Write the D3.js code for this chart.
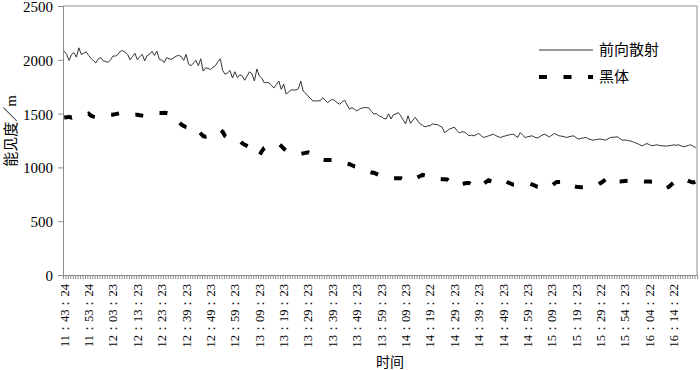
<!DOCTYPE html>
<html>
<head>
<meta charset="utf-8">
<script src="https://cdn.jsdelivr.net/npm/d3@7"></script>
<style>
  body { margin: 0; background: #fff; }
  svg { display: block; }
  .axis path, .axis line { stroke: #8c8c8c; }
</style>
</head>
<body>
<svg id="chart"></svg>
<script>
// category labels, one every 10 samples
const tickLabels = ['11：43：24', '11：53：24', '12：03：23', '12：13：23', '12：23：23', '12：39：23',
  '12：49：23', '12：59：23', '13：09：23', '13：19：23', '13：29：23', '13：39：23', '13：49：23',
  '13：59：23', '14：09：23', '14：19：22', '14：29：23', '14：39：23', '14：49：23', '14：59：23',
  '15：09：23', '15：19：23', '15：29：22', '15：54：23', '16：04：22', '16：14：22'];
const labelStep = 10;

const seriesNames = ['前向散射', '黑体'];

// forward scatter visibility (m), 260 samples
const forward = [
  2080, 2050, 1994, 2050, 2065, 2025, 2111, 2050, 2060, 2075,
  2040, 2013, 1990, 1972, 2010, 2020, 1990, 1985, 1975, 2000,
  2035, 2035, 2050, 2080, 2085, 2070, 2050, 2000, 2030, 2060,
  2000, 2030, 2050, 1990, 2040, 2050, 2080, 2040, 2080, 2005,
  1995, 1975, 2020, 2010, 2005, 2020, 2035, 2040, 2030, 1995,
  2050, 1960, 1945, 1970, 1995, 1945, 2010, 1895, 1925, 1920,
  1910, 1930, 1945, 1980, 2010, 1900, 1865, 1880, 1900, 1830,
  1889, 1834, 1860, 1850, 1810, 1850, 1889, 1870, 1803, 1914,
  1850, 1830, 1787, 1790, 1787, 1760, 1738, 1770, 1803, 1725,
  1775, 1682, 1700, 1720, 1720, 1720, 1730, 1803, 1710, 1690,
  1664, 1640, 1618, 1618, 1618, 1620, 1648, 1625, 1602, 1620,
  1633, 1620, 1600, 1587, 1610, 1624, 1580, 1541, 1556, 1540,
  1525, 1541, 1550, 1556, 1556, 1550, 1520, 1497, 1500, 1480,
  1470, 1455, 1450, 1497, 1450, 1490, 1497, 1510, 1480, 1440,
  1404, 1480, 1410, 1440, 1465, 1430, 1404, 1390, 1377, 1385,
  1387, 1404, 1400, 1398, 1385, 1374, 1321, 1340, 1357, 1365,
  1374, 1345, 1321, 1330, 1330, 1315, 1293, 1300, 1293, 1305,
  1315, 1295, 1278, 1285, 1293, 1300, 1309, 1295, 1285, 1278,
  1288, 1293, 1300, 1305, 1309, 1295, 1278, 1324, 1300, 1278,
  1285, 1290, 1293, 1280, 1272, 1285, 1300, 1309, 1295, 1284,
  1300, 1315, 1305, 1293, 1290, 1285, 1278, 1285, 1290, 1293,
  1275, 1262, 1270, 1275, 1278, 1265, 1258, 1253, 1258, 1262,
  1262, 1258, 1253, 1265, 1278, 1280, 1282, 1284, 1265, 1253,
  1255, 1250, 1247, 1240, 1230, 1222, 1210, 1201, 1212, 1222,
  1210, 1201, 1205, 1210, 1205, 1200, 1201, 1198, 1201, 1205,
  1210, 1205, 1210, 1200, 1191, 1198, 1205, 1210, 1195, 1185
];

// black body visibility (m), 260 samples
const blackbody = [
  1463, 1465, 1470, 1462, 1470, 1475, 1478, 1480, 1485, 1490,
  1500, 1480, 1472, 1468, 1475, 1480, 1485, 1488, 1490, 1492,
  1490, 1495, 1500, 1505, 1502, 1498, 1495, 1492, 1490, 1488,
  1490, 1485, 1482, 1480, 1485, 1490, 1495, 1500, 1502, 1505,
  1505, 1508, 1505, 1500, 1498, 1480, 1450, 1420, 1400, 1385,
  1375, 1370, 1365, 1360, 1370, 1340, 1315, 1290, 1285, 1290,
  1300, 1310, 1320, 1335, 1350, 1330, 1290, 1275, 1260, 1250,
  1250, 1248, 1245, 1225, 1210, 1200, 1190, 1170, 1150, 1120,
  1110, 1150, 1180, 1190, 1200, 1205, 1210, 1215, 1220, 1200,
  1175, 1155, 1145, 1138, 1132, 1128, 1126, 1125, 1130, 1135,
  1140, 1130, 1110, 1095, 1080, 1072, 1070, 1068, 1068, 1068,
  1068, 1060, 1055, 1050, 1045, 1040, 1035, 1030, 1020, 1010,
  1005, 995, 985, 975, 965, 958, 952, 950, 940, 930,
  923, 915, 910, 905, 902, 900, 900, 900, 900, 890,
  880, 875, 880, 890, 900, 910, 920, 930, 925, 915,
  905, 900, 898, 895, 892, 890, 890, 888, 870, 850,
  830, 835, 840, 845, 850, 855, 855, 840, 825, 810,
  820, 835, 850, 865, 880, 872, 865, 858, 850, 855,
  865, 875, 860, 850, 840, 840, 845, 848, 850, 850,
  850, 850, 840, 830, 820, 815, 815, 815, 812, 810,
  830, 850, 865, 865, 865, 865, 865, 865, 845, 825,
  820, 818, 815, 815, 815, 820, 825, 830, 835, 840,
  855, 870, 890, 905, 915, 900, 885, 870, 870, 872,
  874, 875, 875, 875, 875, 875, 875, 875, 870, 870,
  868, 866, 865, 865, 855, 840, 825, 810, 820, 840,
  860, 875, 890, 900, 895, 885, 875, 865, 860, 870
];

const yTicks = [0, 500, 1000, 1500, 2000, 2500];

const width = 700, height = 370;
const margin = {top: 6, right: 3, bottom: 95, left: 63};
const numFont = 'Liberation Serif';
const cjkFont = 'Noto Sans CJK SC';
const dash = '8 16.5';

const svg = d3.select('#chart')
    .attr('width', width)
    .attr('height', height);

const innerW = width - margin.left - margin.right;
const innerH = height - margin.top - margin.bottom;

const chart = svg.append('g')
    .attr('transform', `translate(${margin.left},${margin.top})`);

// scales
const idx = d3.range(forward.length);
const xScale = d3.scaleBand().domain(idx).range([0, innerW]);
const xEdge = d3.scaleLinear().domain([0, forward.length]).range([0, innerW]);
const yScale = d3.scaleLinear().domain([0, 2500]).range([innerH, 0]);

// plot area border (top and right)
chart.append('path')
    .attr('d', `M0,0H${innerW}V${innerH}`)
    .attr('fill', 'none')
    .attr('stroke', '#8c8c8c');

// y axis
const yAxisG = chart.append('g')
    .attr('class', 'axis y-axis')
    .call(d3.axisLeft(yScale).tickValues(yTicks).tickSize(5).tickSizeOuter(0).tickFormat(d3.format('d')));
yAxisG.attr('font-family', numFont).attr('font-size', 15);
yAxisG.selectAll('text')
    .attr('x', -10)
    .attr('dy', '0.36em')
    .style('font-family', numFont)
    .style('font-size', '15px')
    .attr('fill', '#000');

// x axis: small ticks between every category
chart.append('g')
    .attr('class', 'axis x-axis')
    .attr('transform', `translate(0,${innerH})`)
    .call(d3.axisBottom(xEdge).tickValues(d3.range(0, forward.length + 1)).tickSize(4).tickSizeOuter(0).tickFormat(''));

// x labels, rotated, every 10th category
const labelIdx = tickLabels.map((t, i) => i * labelStep);
const xLabG = chart.append('g')
    .attr('transform', `translate(0,${innerH})`)
    .call(d3.axisBottom(xScale).tickValues(labelIdx).tickSize(0)
      .tickFormat(d => tickLabels[d / labelStep]));
xLabG.attr('font-family', numFont).attr('font-size', 12.5);
xLabG.select('.domain').remove();
xLabG.selectAll('text')
    .attr('transform', 'rotate(-90)')
    .attr('x', -9)
    .attr('y', 0)
    .attr('dy', '0.35em')
    .style('text-anchor', 'end')
    .style('font-family', numFont)
    .style('font-size', '12.5px')
    .attr('fill', '#000');

// lines
const line = d3.line()
    .x((d, i) => xScale(i) + xScale.bandwidth() / 2)
    .y(d => yScale(d));

chart.append('path')
    .datum(forward)
    .attr('d', line)
    .attr('fill', 'none')
    .attr('stroke', '#333')
    .attr('stroke-width', 1);

chart.append('path')
    .datum(blackbody)
    .attr('d', line)
    .attr('fill', 'none')
    .attr('stroke', '#000')
    .attr('stroke-width', 4)
    .attr('stroke-dasharray', dash);

// axis titles
const yTitle = svg.append('text')
    .attr('transform', `translate(11,${margin.top + 125}) rotate(-90)`)
    .attr('text-anchor', 'middle')
    .attr('dy', '0.35em')
    .style('font-size', '15px');
yTitle.append('tspan').style('font-family', cjkFont).text('能见度／');
yTitle.append('tspan').style('font-family', numFont).text('m');

svg.append('text')
    .attr('x', 390)
    .attr('y', 362)
    .attr('text-anchor', 'middle')
    .attr('dy', '0.35em')
    .style('font-family', cjkFont)
    .style('font-size', '14px')
    .text('时间');

// legend
const legend = svg.append('g').attr('transform', 'translate(539,50)');
seriesNames.forEach((name, i) => {
  const g = legend.append('g').attr('transform', `translate(0,${i * 27})`);
  g.append('line')
      .attr('x1', 0).attr('x2', 54)
      .attr('stroke', i === 0 ? '#333' : '#000')
      .attr('stroke-width', i === 0 ? 1 : 4)
      .attr('stroke-dasharray', i === 0 ? null : dash);
  g.append('text')
      .attr('x', 60)
      .attr('dy', '0.35em')
      .style('font-family', cjkFont)
      .style('font-size', '15px')
      .text(name);
});
</script>
</body>
</html>
